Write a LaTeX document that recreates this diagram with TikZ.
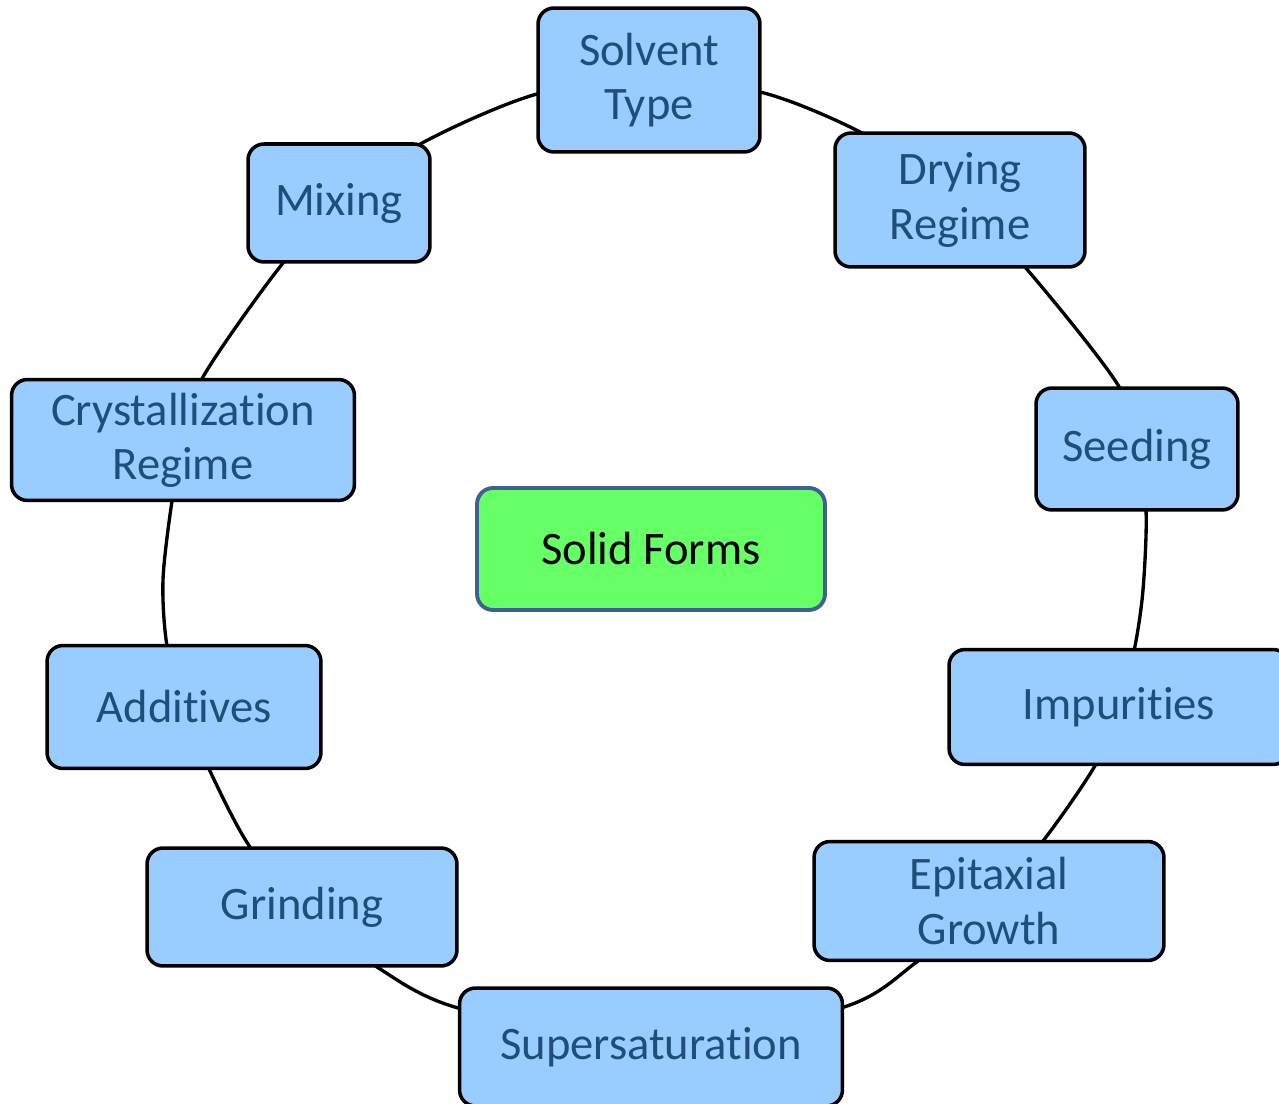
\documentclass[tikz,border=0pt]{standalone}
\usepackage{fontspec}
\setmainfont{Carlito}[Ligatures={NoCommon,NoContextual}, RawFeature={-calt;-liga;-clig}]
\definecolor{boxblue}{HTML}{99CCFF}
\definecolor{textblue}{HTML}{1F4E79}
\definecolor{hubgreen}{HTML}{66FF66}
\definecolor{hubedge}{HTML}{3F5F95}
\tikzset{
  factor/.style={draw=black, fill=boxblue, text=textblue, line width=2pt,
    rounded corners=0.32cm, align=center, inner sep=0pt,
    font=\fontsize{26.5}{30.8}\selectfont},
  hub/.style={draw=hubedge, fill=hubgreen, text=black, line width=2.2pt,
    rounded corners=0.32cm, align=center, inner sep=0pt,
    font=\fontsize{26.5}{30.8}\selectfont},
  ring/.style={draw=black, line width=1.9pt}
}
\begin{document}
\begin{tikzpicture}[x=0.02cm, y=-0.02cm]
			\useasboundingbox (0,0) rectangle (1279,1104);
			\clip (0,0) rectangle (1279,1104);
			\fill[white] (0,0) rectangle (1279,1104);
			% ring behind the boxes
			\draw[ring] plot[smooth cycle] coordinates {
				(537,94) (648,81) (760,92) (860,132) (950,190) (1025,267)
				(1118,385) (1136,447) (1146,510) (1143,590) (1134,651) (1118,708)
				(1096,764) (1043,841) (986,906) (918,961) (844,1007) (651,1045)
				(458,1008) (377,967) (308,913) (250,847) (209,769) (184,709)
				(167,646) (163,580) (172,501) (184,438) (203,377) (283,263)
				(348,196) (424,142)};
			\node[factor, minimum width=4.44cm, minimum height=2.88cm] (solvent) at (649,80) {Solvent\\Type};
			\node[factor, minimum width=5cm, minimum height=2.68cm] (drying) at (960,200) {Drying\\Regime};
			\node[factor, minimum width=4.04cm, minimum height=2.44cm] (seeding) at (1137,449) {Seeding};
			\node[factor, minimum width=6.8cm, minimum height=2.3cm] (impurities) at (1119,707) {Impurities};
			\node[factor, minimum width=7cm, minimum height=2.38cm] (epitaxial) at (989,901) {Epitaxial\\Growth};
			\node[factor, minimum width=7.66cm, minimum height=2.36cm] (supersat) at (651,1047) {Supersaturation};
			\node[factor, minimum width=6.2cm, minimum height=2.36cm] (grinding) at (302,907) {Grinding};
			\node[factor, minimum width=5.48cm, minimum height=2.46cm] (additives) at (184,707) {Additives};
			\node[factor, minimum width=6.86cm, minimum height=2.42cm] (crystal) at (183,440) {Crystallization\\Regime};
			\node[factor, minimum width=3.64cm, minimum height=2.36cm] (mixing) at (339,203) {Mixing};
			\node[hub, minimum width=6.96cm, minimum height=2.44cm] (solid) at (651,549) {Solid Forms};
		\end{tikzpicture}
\end{document}
